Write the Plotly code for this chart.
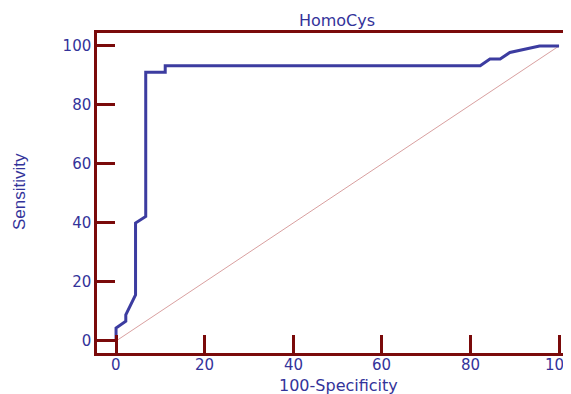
import plotly.graph_objects as go

# ROC curve points (100-Specificity, Sensitivity)
fpr = [0, 0, 2.2, 2.2, 4.4, 4.4, 6.7, 6.7, 11.1, 11.1, 82.2, 84.4, 86.7, 88.9, 95.6, 100]
tpr = [0, 4.4, 6.7, 8.9, 15.6, 40.0, 42.2, 91.1, 91.1, 93.3, 93.3, 95.6, 95.6, 97.8, 100, 100]
diag_x = [0, 100]
diag_y = [0, 100]
tick_vals = [0, 20, 40, 60, 80, 100]
tick_text = ["0", "20", "40", "60", "80", "100"]

AXIS = "#7a0a0a"
BLUE = "#33339a"
FONT = "DejaVu Sans"

# the page body has an 8px margin; figure is sized to fill the rest of the window
W, H, OFF = 563, 386, 8

fig = go.Figure()
fig.add_trace(go.Scatter(x=diag_x, y=diag_y, mode="lines",
                         line=dict(color="#d9a0a0", width=1), hoverinfo="skip"))
fig.add_trace(go.Scatter(x=fpr, y=tpr, mode="lines",
                         line=dict(color="#3c3ca0", width=3)))

fig.update_layout(
    width=W, height=H,
    margin=dict(l=97 - OFF, r=0, t=33 - OFF, b=41),
    paper_bgcolor="white", plot_bgcolor="white",
    showlegend=False,
    font=dict(family=FONT, color=BLUE),
    title=dict(text="HomoCys", x=(337 - OFF) / W, xanchor="center",
               y=1 - (20 - OFF) / H, yanchor="middle",
               font=dict(family=FONT, size=16, color=BLUE)),
)
fig.update_xaxes(range=[-4.3, 102.7], tickvals=tick_vals, ticks="inside", ticklen=18,
                 tickwidth=2.5, tickcolor=AXIS, showline=True, linecolor=AXIS, linewidth=2.5,
                 mirror=True, showgrid=False, zeroline=False, showticklabels=False)
fig.update_yaxes(range=[-4.07, 104.4], tickvals=tick_vals, ticktext=tick_text,
                 ticks="inside", ticklen=18,
                 tickwidth=2.5, tickcolor=AXIS, showline=True, linecolor=AXIS, linewidth=2.5,
                 showgrid=False, zeroline=False,
                 tickfont=dict(family=FONT, size=15, color=BLUE))

# x tick labels (the 100 label runs off the right edge as in the original)
for v, t in zip(tick_vals, tick_text):
    fig.add_annotation(text=t, x=v, xref="x", yref="paper", y=(353 - 365) / 320,
                       showarrow=False, xanchor="center", yanchor="middle",
                       font=dict(family=FONT, size=15, color=BLUE))

fig.add_annotation(text="100-Specificity", xref="paper", yref="paper",
                   x=(338 - 97) / 474, y=(353 - 385) / 320, showarrow=False,
                   xanchor="center", yanchor="middle",
                   font=dict(family=FONT, size=16, color=BLUE))
fig.add_annotation(text="Sensitivity", xref="paper", yref="paper",
                   x=(19 - 97) / 474, y=(353 - 192) / 320, showarrow=False, textangle=-90,
                   xanchor="center", yanchor="middle",
                   font=dict(family="Liberation Sans", size=17, color=BLUE))

fig.write_html("out.html")
